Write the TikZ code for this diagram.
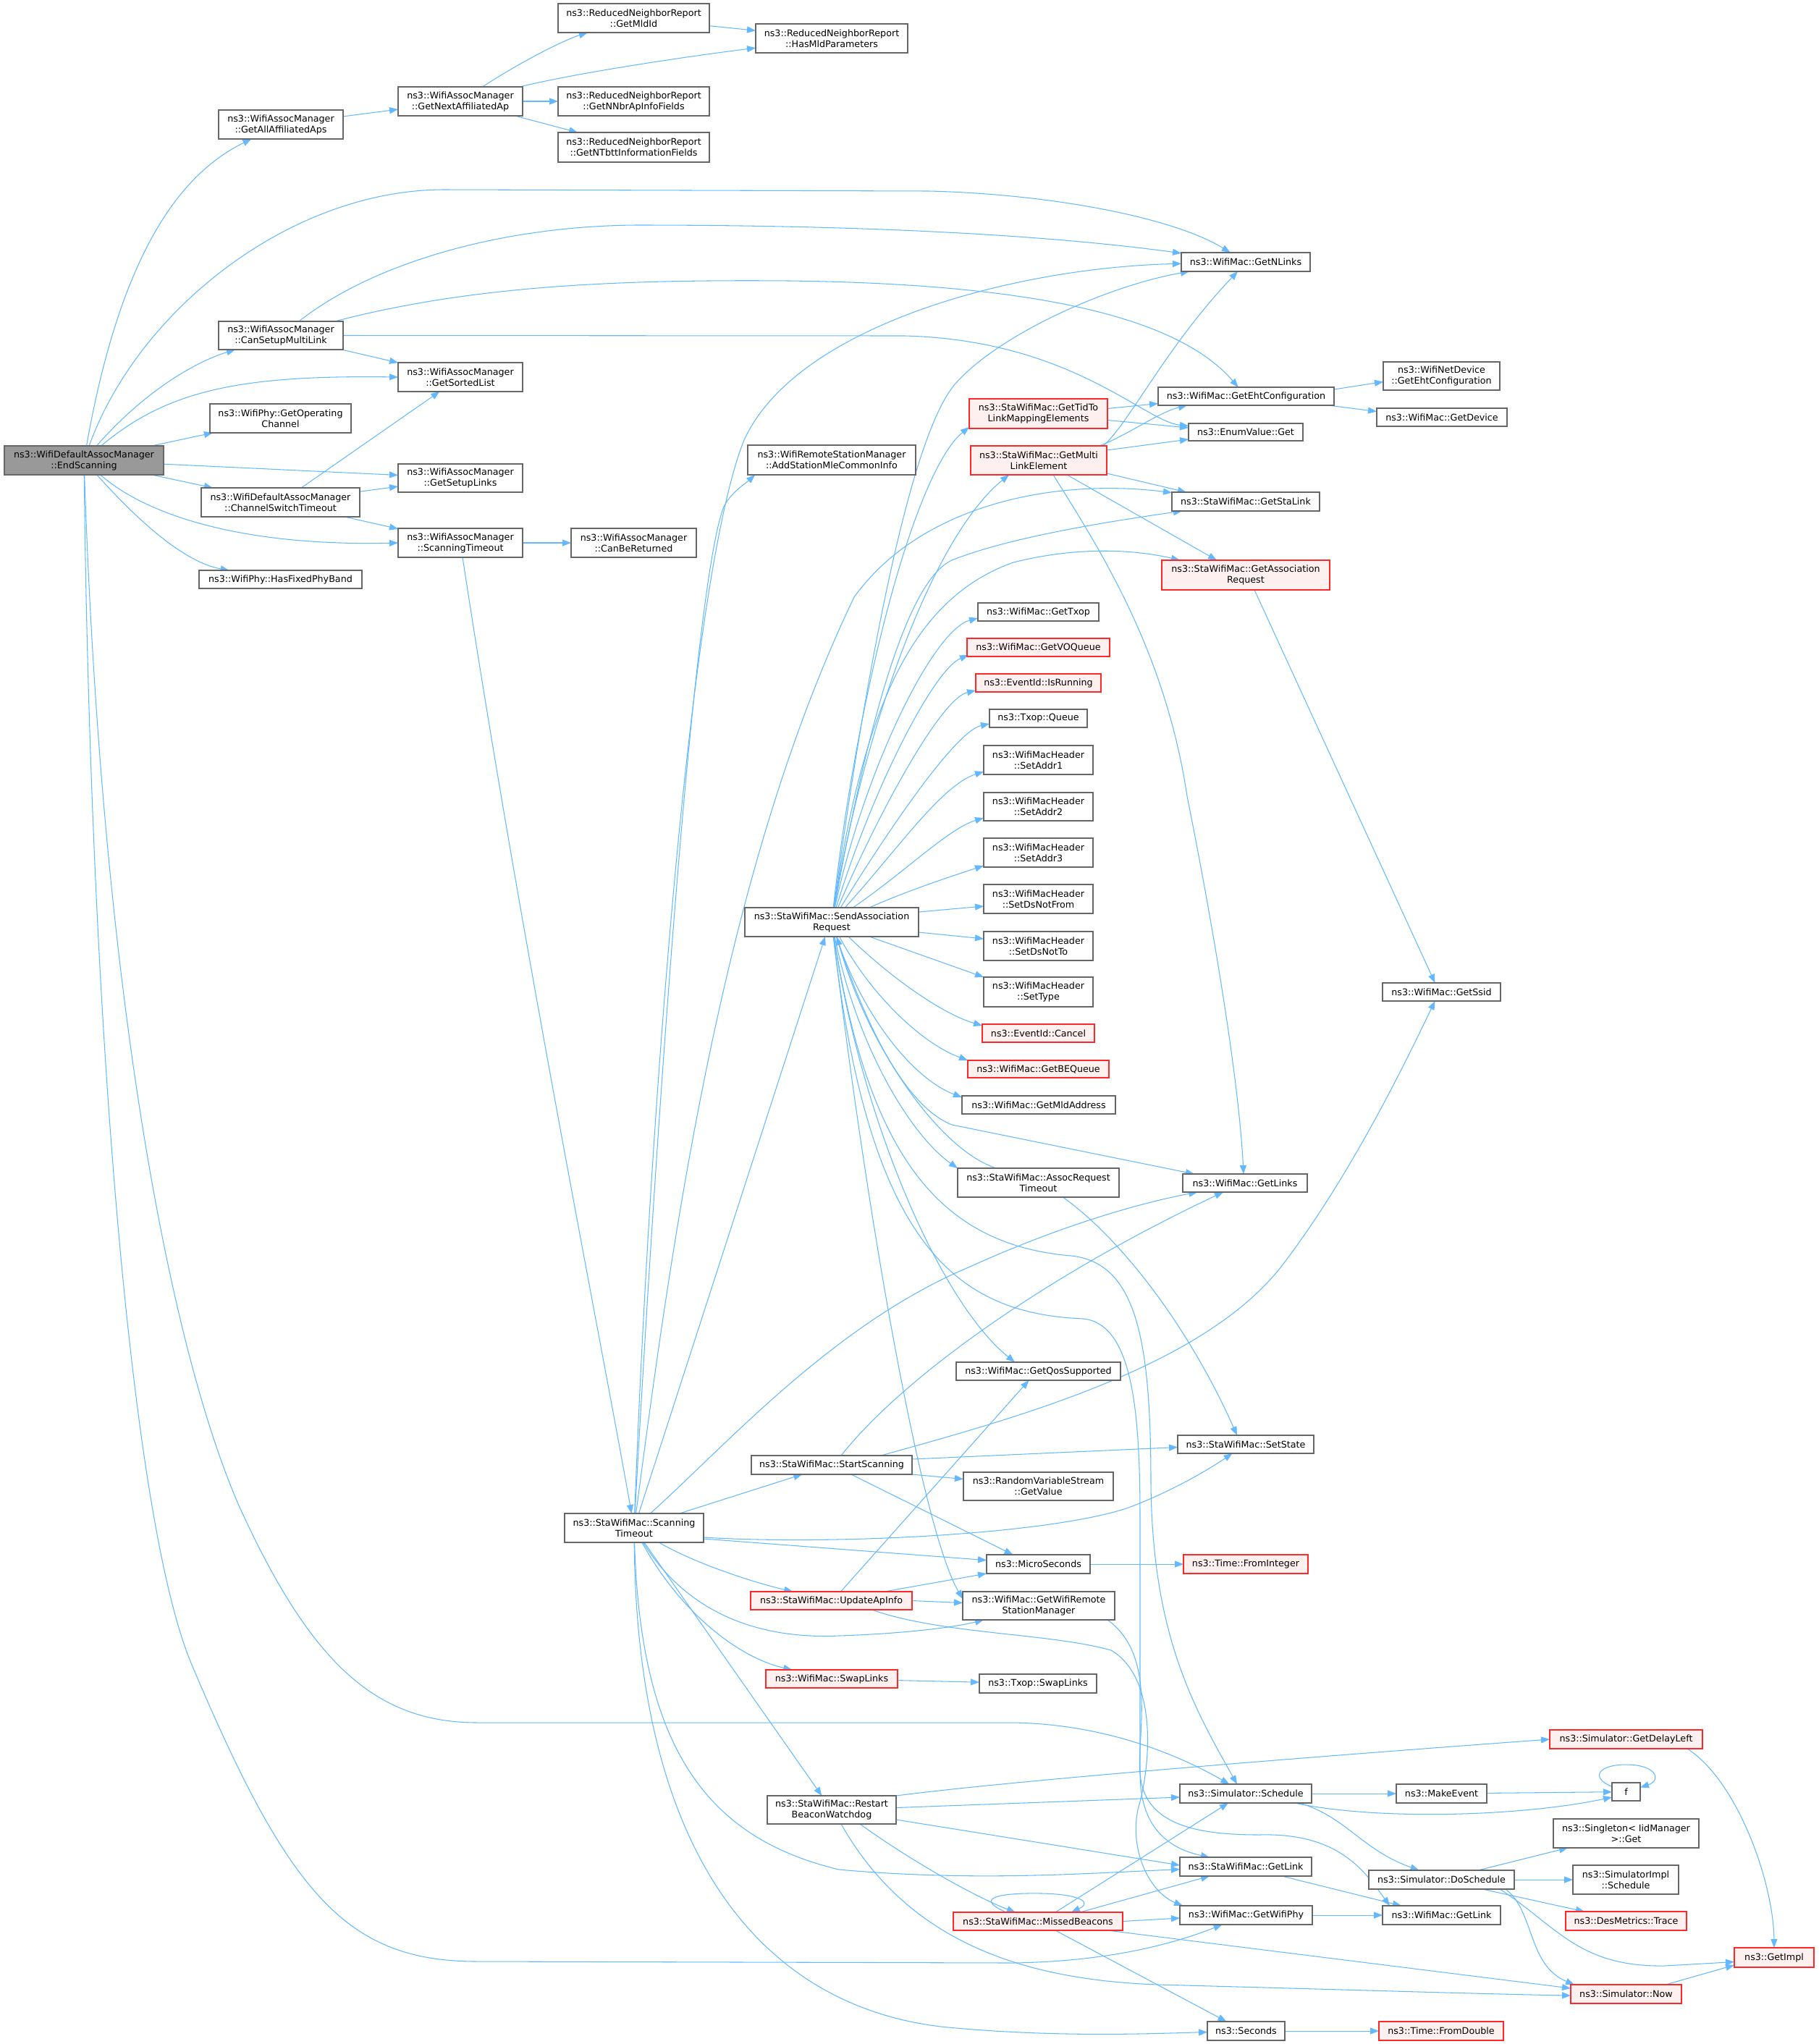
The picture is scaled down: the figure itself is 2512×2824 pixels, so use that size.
\documentclass[tikz,border=0pt]{standalone}
\usepackage{fontspec}
\setmainfont{DejaVu Sans}
\usetikzlibrary{arrows.meta,calc}
\definecolor{edgec}{RGB}{99,184,255}
\definecolor{bordc}{RGB}{102,102,102}
\definecolor{redf}{RGB}{255,240,240}
\definecolor{grayf}{RGB}{153,153,153}
\definecolor{redb}{RGB}{255,40,40}
\pgfdeclarelayer{background}
\pgfsetlayers{background,main}
\tikzset{
 box/.style={draw=bordc, fill=white, line width=1.3pt, inner sep=0pt, outer sep=0pt, align=center, font=\fontsize{12.7}{15}\selectfont},
 redbox/.style={box, draw=redb, fill=redf},
 graybox/.style={box, fill=grayf},
 e/.style={draw=edgec, line width=1.05pt, -{Triangle[length=12pt,width=9pt]}},
}
\newcommand\mynode[7]{\node[#7, minimum width={(#4)-(#2)}, minimum height={(#5)-(#3)}] (#1) at ({((#2)+(#4))/2},{((#3)+(#5))/2}) {#6};}
\begin{document}
\begin{tikzpicture}[x=1pt,y=-1pt]
\useasboundingbox (0,0) rectangle (2512,2824);
\mynode{es}{6}{616}{226}{656}{ns3::WifiDefaultAssocManager\\::EndScanning}{graybox}
\mynode{gaa}{302}{152}{474}{192}{ns3::WifiAssocManager\\::GetAllAffiliatedAps}{box}
\mynode{csm}{302}{444}{474}{483}{ns3::WifiAssocManager\\::CanSetupMultiLink}{box}
\mynode{goc}{290}{558}{485}{598}{ns3::WifiPhy::GetOperating\\Channel}{box}
\mynode{cst}{278}{674}{497}{714}{ns3::WifiDefaultAssocManager\\::ChannelSwitchTimeout}{box}
\mynode{hfp}{275}{788}{500}{813}{ns3::WifiPhy::HasFixedPhyBand}{box}
\mynode{gna}{550}{120}{722}{160}{ns3::WifiAssocManager\\::GetNextAffiliatedAp}{box}
\mynode{gsl}{550}{501}{722}{541}{ns3::WifiAssocManager\\::GetSortedList}{box}
\mynode{gsu}{550}{641}{722}{680}{ns3::WifiAssocManager\\::GetSetupLinks}{box}
\mynode{wst}{550}{730}{722}{770}{ns3::WifiAssocManager\\::ScanningTimeout}{box}
\mynode{cbr}{789}{730}{962}{770}{ns3::WifiAssocManager\\::CanBeReturned}{box}
\mynode{gmi}{771}{5}{980}{45}{ns3::ReducedNeighborReport\\::GetMldId}{box}
\mynode{gnn}{771}{120}{980}{160}{ns3::ReducedNeighborReport\\::GetNNbrApInfoFields}{box}
\mynode{gnt}{771}{183}{980}{224}{ns3::ReducedNeighborReport\\::GetNTbttInformationFields}{box}
\mynode{hmp}{1044}{33}{1254}{73}{ns3::ReducedNeighborReport\\::HasMldParameters}{box}
\mynode{sst}{780}{2091}{972}{2131}{ns3::StaWifiMac::Scanning\\Timeout}{box}
\mynode{asm}{1033}{615}{1265}{656}{ns3::WifiRemoteStationManager\\::AddStationMleCommonInfo}{box}
\mynode{sar}{1029}{1254}{1269}{1294}{ns3::StaWifiMac::SendAssociation\\Request}{box}
\mynode{ssc}{1038}{2011}{1260}{2037}{ns3::StaWifiMac::StartScanning}{box}
\mynode{uai}{1037}{2199}{1260}{2224}{ns3::StaWifiMac::UpdateApInfo}{redbox}
\mynode{swl}{1058}{2307}{1240}{2332}{ns3::WifiMac::SwapLinks}{redbox}
\mynode{rbw}{1060}{2481}{1238}{2520}{ns3::StaWifiMac::Restart\\BeaconWatchdog}{box}
\mynode{mbc}{1317}{2642}{1551}{2667}{ns3::StaWifiMac::MissedBeacons}{redbox}
\mynode{gtl}{1339}{551}{1530}{592}{ns3::StaWifiMac::GetTidTo\\LinkMappingElements}{redbox}
\mynode{gml}{1341}{616}{1529}{656}{ns3::StaWifiMac::GetMulti\\LinkElement}{redbox}
\mynode{gtx}{1351}{833}{1518}{858}{ns3::WifiMac::GetTxop}{box}
\mynode{gvo}{1336}{882}{1533}{907}{ns3::WifiMac::GetVOQueue}{redbox}
\mynode{isr}{1348}{931}{1521}{956}{ns3::EventId::IsRunning}{redbox}
\mynode{tq}{1367}{980}{1502}{1005}{ns3::Txop::Queue}{box}
\mynode{sa1}{1359}{1030}{1510}{1070}{ns3::WifiMacHeader\\::SetAddr1}{box}
\mynode{sa2}{1359}{1095}{1510}{1134}{ns3::WifiMacHeader\\::SetAddr2}{box}
\mynode{sa3}{1359}{1158}{1510}{1198}{ns3::WifiMacHeader\\::SetAddr3}{box}
\mynode{sdf}{1359}{1222}{1510}{1262}{ns3::WifiMacHeader\\::SetDsNotFrom}{box}
\mynode{sdt}{1359}{1287}{1510}{1327}{ns3::WifiMacHeader\\::SetDsNotTo}{box}
\mynode{sty}{1359}{1350}{1510}{1391}{ns3::WifiMacHeader\\::SetType}{box}
\mynode{ecn}{1357}{1415}{1512}{1440}{ns3::EventId::Cancel}{redbox}
\mynode{gbe}{1337}{1465}{1532}{1489}{ns3::WifiMac::GetBEQueue}{redbox}
\mynode{gma}{1329}{1514}{1541}{1539}{ns3::WifiMac::GetMldAddress}{box}
\mynode{art}{1323}{1614}{1546}{1654}{ns3::StaWifiMac::AssocRequest\\Timeout}{box}
\mynode{gqs}{1321}{1882}{1548}{1907}{ns3::WifiMac::GetQosSupported}{box}
\mynode{gvl}{1331}{2034}{1538}{2073}{ns3::RandomVariableStream\\::GetValue}{box}
\mynode{mus}{1363}{2148}{1506}{2174}{ns3::MicroSeconds}{box}
\mynode{gwr}{1330}{2199}{1540}{2238}{ns3::WifiMac::GetWifiRemote\\StationManager}{box}
\mynode{tsl}{1353}{2313}{1515}{2339}{ns3::Txop::SwapLinks}{box}
\mynode{gnl}{1632}{349}{1810}{375}{ns3::WifiMac::GetNLinks}{box}
\mynode{gec}{1600}{535}{1843}{560}{ns3::WifiMac::GetEhtConfiguration}{box}
\mynode{evg}{1642}{585}{1800}{609}{ns3::EnumValue::Get}{box}
\mynode{gsk}{1619}{680}{1823}{706}{ns3::StaWifiMac::GetStaLink}{box}
\mynode{gar}{1605}{774}{1837}{815}{ns3::StaWifiMac::GetAssociation\\Request}{redbox}
\mynode{gss}{1910}{1358}{2073}{1383}{ns3::WifiMac::GetSsid}{box}
\mynode{gls}{1634}{1622}{1806}{1647}{ns3::WifiMac::GetLinks}{box}
\mynode{sts}{1627}{1983}{1815}{2008}{ns3::StaWifiMac::SetState}{box}
\mynode{sch}{1630}{2465}{1812}{2491}{ns3::Simulator::Schedule}{box}
\mynode{sgl}{1630}{2566}{1812}{2592}{ns3::StaWifiMac::GetLink}{box}
\mynode{gwp}{1630}{2633}{1813}{2659}{ns3::WifiMac::GetWifiPhy}{box}
\mynode{sec}{1668}{2793}{1775}{2819}{ns3::Seconds}{box}
\mynode{tfi}{1635}{2148}{1807}{2174}{ns3::Time::FromInteger}{redbox}
\mynode{wnd}{1911}{500}{2072}{539}{ns3::WifiNetDevice\\::GetEhtConfiguration}{box}
\mynode{gdv}{1902}{564}{2082}{589}{ns3::WifiMac::GetDevice}{box}
\mynode{mke}{1929}{2465}{2054}{2491}{ns3::MakeEvent}{box}
\mynode{dsc}{1891}{2584}{2092}{2610}{ns3::Simulator::DoSchedule}{box}
\mynode{wgl}{1910}{2633}{2073}{2659}{ns3::WifiMac::GetLink}{box}
\mynode{tfd}{1905}{2793}{2077}{2819}{ns3::Time::FromDouble}{redbox}
\mynode{gdl}{2141}{2390}{2352}{2416}{ns3::Simulator::GetDelayLeft}{redbox}
\mynode{ff}{2227}{2463}{2266}{2488}{f}{box}
\mynode{sig}{2146}{2513}{2347}{2553}{ns3::Singleton< IidManager\\ >::Get}{box}
\mynode{sis}{2173}{2577}{2319}{2617}{ns3::SimulatorImpl\\::Schedule}{box}
\mynode{dmt}{2163}{2641}{2330}{2667}{ns3::DesMetrics::Trace}{redbox}
\mynode{now}{2170}{2742}{2323}{2768}{ns3::Simulator::Now}{redbox}
\mynode{gim}{2396}{2691}{2506}{2718}{ns3::GetImpl}{redbox}
\begin{pgfonlayer}{background}
% EndScanning
\draw[e] (es) .. controls (170,330) and (260,235) .. (gaa);
\draw[e] (es) .. controls (190,430) and (400,262) .. (614,262) -- (1283,264) .. controls (1450,268) and (1620,300) .. (gnl);
\draw[e] (es) .. controls (200,540) and (270,500) .. (csm);
\draw[e] (es) .. controls (230,540) and (330,518) .. (gsl.west);
\draw[e] (es) -- (goc);
\draw[e] (es) -- (gsu);
\draw[e] (es) -- (cst);
\draw[e] (es) .. controls (200,710) and (330,755) .. (wst.west);
\draw[e] (es) .. controls (200,730) and (260,778) .. (hfp);
\draw[e] (es) .. controls (140,1350) and (230,1850) .. (330,2080) .. controls (430,2300) and (520,2380) .. (660,2380) -- (1400,2380) .. controls (1520,2382) and (1620,2420) .. (sch);
\draw[e] (es) .. controls (125,1400) and (180,2100) .. (265,2300) .. controls (400,2620) and (480,2710) .. (660,2710) -- (1400,2712) .. controls (1520,2710) and (1610,2690) .. (gwp);
% top cluster
\draw[e] (gaa) -- (gna);
\draw[e] (gna) .. controls (720,85) and (780,55) .. (gmi);
\draw[e] (gna) .. controls (800,100) and (950,78) .. (hmp);
\draw[e] (gna) -- (gnn);
\draw[e] (gna) -- (gnt);
\draw[e] (gmi) -- (hmp);
% CanSetupMultiLink
\draw[e] (csm) .. controls (520,360) and (700,312) .. (880,311) .. controls (1200,311) and (1450,325) .. (gnl);
\draw[e] (csm) .. controls (650,395) and (850,386) .. (1090,388) .. controls (1400,392) and (1620,430) .. (gec);
\draw[e] (csm.east) -- (1250,464) .. controls (1480,470) and (1580,582) .. (evg);
\draw[e] (csm) -- (gsl);
% ChannelSwitchTimeout
\draw[e] (cst) -- (gsl);
\draw[e] (cst) -- (gsu);
\draw[e] (cst) -- (wst);
\draw[e] (wst) -- (cbr);
\draw[e] (wst) .. controls (720,1300) and (830,1850) .. (sst);
% StaWifiMac::ScanningTimeout
\draw[e] (sst) .. controls (895,1600) and (950,800) .. (1028,608) .. controls (1100,450) and (1400,370) .. (gnl);
\draw[e] (sst) .. controls (910,1500) and (960,800) .. (1000,700) .. controls (1010,680) and (1030,668) .. ($(asm.south west)+(10,0)$);
\draw[e] (sst) -- ($(sar.south)+(-9,0)$);
\draw[e] (sst) .. controls (930,1700) and (1000,1200) .. (1180,825) .. controls (1270,700) and (1450,660) .. (gsk);
\draw[e] (sst) .. controls (1000,2000) and (1150,1830) .. (1338,1751) .. controls (1450,1700) and (1560,1665) .. (gls);
\draw[e] (sst) -- (ssc);
\draw[e] ($(sst.east)+(0,13)$) .. controls (1150,2135) and (1450,2120) .. (1559,2083) .. controls (1620,2060) and (1670,2030) .. (sts);
\draw[e] ($(sst.east)+(0,15)$) -- (mus);
\draw[e] (sst) .. controls (960,2160) and (1040,2186) .. (uai);
\draw[e] (sst) .. controls (950,2230) and (1050,2265) .. (1159,2260) .. controls (1250,2257) and (1320,2248) .. (gwr);
\draw[e] (sst) .. controls (940,2228) and (1020,2290) .. (swl);
\draw[e] (sst) -- (rbw);
\draw[e] (sst) .. controls (885,2420) and (980,2540) .. (1159,2583) .. controls (1350,2600) and (1500,2588) .. (sgl);
\draw[e] (sst) .. controls (880,2560) and (1050,2770) .. (1300,2800) .. controls (1450,2815) and (1580,2810) .. (sec);
% SendAssociationRequest
\draw[e] (sar) .. controls (1185,950) and (1265,650) .. ($(gtl.south west)+(0,-2)$);
\draw[e] (sar) .. controls (1195,1000) and (1290,740) .. ($(gml.south west)+(53,0)$);
\draw[e] (sar) .. controls (1200,900) and (1260,598) .. (1320,530) .. controls (1380,462) and (1530,395) .. ($(gnl.south west)+(11,0)$);
\draw[e] (sar) .. controls (1190,1050) and (1245,806) .. (1315,774) .. controls (1400,740) and (1550,718) .. ($(gsk.south west)+(14,0)$);
\draw[e] (sar) .. controls (1190,1000) and (1250,830) .. (1400,777) .. controls (1500,752) and (1580,762) .. ($(gar.north west)+(25,0)$);
\draw[e] (sar) .. controls (1195,1060) and (1290,870) .. ($(gtx.south west)+(0,-4)$);
\draw[e] (sar) .. controls (1205,1090) and (1290,925) .. ($(gvo.south west)+(2,-2)$);
\draw[e] (sar) .. controls (1215,1120) and (1300,965) .. ($(isr.south west)+(0,-2)$);
\draw[e] (sar) .. controls (1225,1150) and (1320,1010) .. ($(tq.south west)+(0,-5)$);
\draw[e] (sar) .. controls (1235,1180) and (1300,1085) .. ($(sa1.south west)+(0,-4)$);
\draw[e] (sar) .. controls (1250,1205) and (1310,1145) .. ($(sa2.south west)+(0,-4)$);
\draw[e] ($(sar.north)+(52,0)$) .. controls (1250,1232) and (1310,1212) .. ($(sa3.south west)+(0,-2)$);
\draw[e] ($(sar.north east)+(0,6)$) -- ($(sdf.west)+(0,10)$);
\draw[e] ($(sar.south east)+(0,-6)$) -- ($(sdt.north west)+(0,10)$);
\draw[e] ($(sar.south)+(52,0)$) -- (sty.north west);
\draw[e] ($(sar.south)+(23,0)$) .. controls (1230,1350) and (1300,1400) .. ($(ecn.north west)+(0,2)$);
\draw[e] (sar) .. controls (1200,1370) and (1270,1440) .. (gbe.north west);
\draw[e] (sar) .. controls (1190,1400) and (1260,1490) .. ($(gma.north west)+(0,2)$);
\draw[e] (sar) .. controls (1200,1430) and (1255,1530) .. (1315,1554) -- ($(gls.north west)+(16,0)$);
\draw[e] (sar) .. controls (1185,1450) and (1260,1570) .. (art.north west);
\draw[e] ($(art.north)+(-58,0)$) .. controls (1300,1590) and (1200,1450) .. ($(sar.south)+(7,0)$);
\draw[e] (sar) .. controls (1190,1550) and (1300,1800) .. ($(gqs.north west)+(81,0)$);
\draw[e] (sar) .. controls (1200,1700) and (1275,2115) .. ($(gwr.north west)+(0,10)$);
\draw[e] (sar) .. controls (1200,1600) and (1300,1720) .. (1480,1735) .. controls (1570,1745) and (1590,1850) .. (1590,2050) .. controls (1592,2260) and (1650,2360) .. ($(sch.north west)+(79,0)$);
\draw[e] (sar) .. controls (1200,1720) and (1320,1815) .. (1497,1822) .. controls (1565,1830) and (1575,1950) .. (1575,2100) -- (1575,2450) .. controls (1575,2530) and (1620,2555) .. ($(sgl.north west)+(41,0)$);
% GetMultiLinkElement
\draw[e] ($(gml.north east)+(-5,0)$) .. controls (1560,585) and (1610,480) .. ($(gnl.south west)+(78,0)$);
\draw[e] ($(gml.north east)+(-10,0)$) .. controls (1560,600) and (1600,570) .. ($(gec.south west)+(40,0)$);
\draw[e] ($(gml.east)+(0,-14)$) -- ($(evg.south west)+(0,-2)$);
\draw[e] ($(gml.south east)+(0,-2)$) -- ($(gsk.north west)+(20,0)$);
\draw[e] ($(gml.south)+(39,0)$) -- ($(gar.north)+(-40,0)$);
\draw[e] ($(gml.south)+(20,0)$) .. controls (1520,760) and (1610,900) .. (1640,1100) .. controls (1680,1300) and (1712,1500) .. ($(gls.north west)+(84,0)$);
% GetTidTo / GetEhtConfiguration
\draw[e] ($(gtl.east)+(0,-7)$) -- ($(gec.west)+(0,10)$);
\draw[e] ($(gtl.east)+(0,9)$) -- ($(evg.west)+(0,-6)$);
\draw[e] ($(gec.north east)+(0,3)$) -- ($(wnd.west)+(0,8)$);
\draw[e] ($(gec.south east)+(-8,0)$) -- ($(gdv.west)+(0,-8)$);
\draw[e] ($(gar.south)+(12,0)$) -- ($(gss.north)+(-9,0)$);
\draw[e] ($(art.south)+(34,0)$) .. controls (1560,1720) and (1650,1850) .. ($(sts.north)+(-12,0)$);
% StartScanning
\draw[e] ($(ssc.north)+(13,0)$) .. controls (1250,1900) and (1450,1760) .. ($(gls.south)+(-30,0)$);
\draw[e] ($(ssc.north)+(68,0)$) .. controls (1400,1960) and (1660,1890) .. (1770,1750) .. controls (1870,1620) and (1950,1450) .. ($(gss.south)+(-9,0)$);
\draw[e] ($(ssc.east)+(0,-8)$) -- ($(sts.west)+(0,4)$);
\draw[e] (ssc.south east) -- ($(gvl.west)+(0,-10)$);
\draw[e] ($(ssc.south)+(27,0)$) -- ($(mus.north)+(-35,0)$);
% UpdateApInfo
\draw[e] ($(uai.north)+(13,0)$) -- ($(gqs.south)+(-13,0)$);
\draw[e] ($(uai.north)+(73,0)$) -- (mus.south west);
\draw[e] (uai.east) -- ($(gwr.west)+(0,-4)$);
\draw[e] ($(uai.south)+(56,0)$) .. controls (1300,2258) and (1450,2256) .. (1535,2280) .. controls (1600,2318) and (1590,2440) .. (1572,2500) .. controls (1560,2560) and (1590,2615) .. ($(gwp.north west)+(4,0)$);
\draw[e] ($(gwr.south east)+(-10,0)$) .. controls (1600,2288) and (1570,2400) .. (1575,2450) .. controls (1580,2520) and (1650,2535) .. (1740,2535) .. controls (1850,2532) and (1885,2585) .. ($(wgl.north west)+(10,0)$);
% small edges
\draw[e] ($(sgl.south)+(50,0)$) -- ($(wgl.north west)+(26,0)$);
\draw[e] (gwp) -- (wgl);
\draw[e] (mus) -- (tfi);
\draw[e] (sec) -- (tfd);
\draw[e] (swl) -- (tsl);
\draw[e] (sch) -- (mke);
\draw[e] (mke) -- (ff);
\draw[e] ($(sch.south east)+(-23,0)$) .. controls (1900,2515) and (2100,2510) .. ($(ff.south west)+(0,-5)$);
\draw[e] ($(sch.south east)+(-17,0)$) .. controls (1860,2510) and (1880,2555) .. ($(dsc.north)+(-31,0)$);
\draw[e] ($(ff.west)+(0,-7)$) .. controls (2195,2455) and (2210,2438) .. (2246,2438) .. controls (2290,2438) and (2295,2460) .. ($(ff.east)+(0,-6)$);
% DoSchedule
\draw[e] ($(dsc.north east)+(-50,0)$) -- ($(sig.south west)+(20,0)$);
\draw[e] (dsc.east) -- (sis.west);
\draw[e] ($(dsc.south east)+(-44,0)$) -- ($(dmt.north west)+(26,0)$);
\draw[e] ($(dsc.south east)+(-12,0)$) .. controls (2120,2640) and (2110,2715) .. ($(now.north west)+(5,0)$);
\draw[e] ($(dsc.south east)+(-20,0)$) .. controls (2150,2660) and (2180,2718) .. (2300,2716) -- ($(gim.west)+(0,6)$);
\draw[e] ($(now.north east)+(-22,0)$) -- ($(gim.south west)+(0,-3)$);
\draw[e] ($(gdl.south east)+(-21,0)$) .. controls (2400,2460) and (2450,2600) .. (gim.north);
% RestartBeaconWatchdog
\draw[e] (rbw.north east) .. controls (1400,2460) and (1800,2428) .. (gdl.west);
\draw[e] ($(rbw.east)+(0,-3)$) -- ($(sch.west)+(0,5)$);
\draw[e] ($(rbw.south east)+(0,-6)$) -- ($(sgl.west)+(0,-2)$);
\draw[e] ($(rbw.south)+(39,0)$) .. controls (1260,2572) and (1350,2622) .. ($(mbc.north west)+(86,0)$);
\draw[e] ($(rbw.south)+(13,0)$) .. controls (1250,2675) and (1400,2735) .. (1600,2742) .. controls (1900,2750) and (2050,2755) .. ($(now.west)+(0,2)$);
% MissedBeacons
\draw[e] ($(mbc.north west)+(73,0)$) .. controls (1340,2620) and (1390,2615) .. (1440,2616) .. controls (1490,2617) and (1510,2628) .. ($(mbc.north west)+(163,0)$);
\draw[e] ($(mbc.north west)+(141,0)$) -- ($(sch.south)+(-24,0)$);
\draw[e] ($(mbc.north east)+(-59,0)$) -- ($(sgl.south west)+(41,0)$);
\draw[e] (mbc.east) -- ($(gwp.west)+(0,4)$);
\draw[e] ($(mbc.south east)+(-21,0)$) -- ($(now.west)+(0,-8)$);
\draw[e] ($(mbc.south west)+(141,0)$) -- ($(sec.north)+(-27,0)$);
\end{pgfonlayer}
\end{tikzpicture}
\end{document}
